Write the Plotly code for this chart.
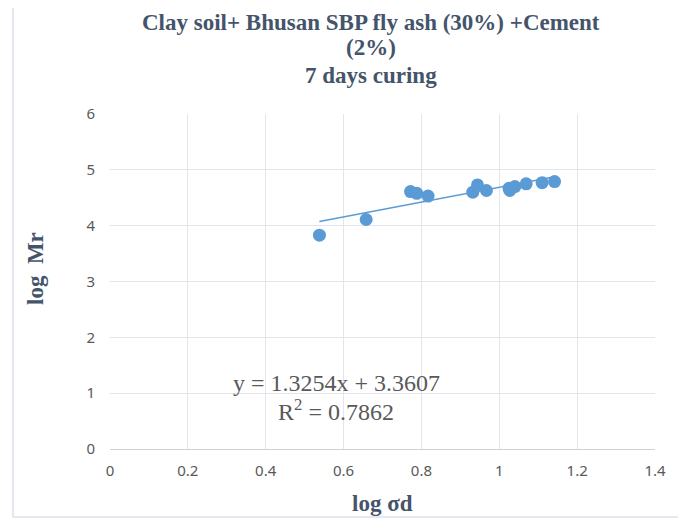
import plotly.graph_objects as go

log_sd = [0.538, 0.658, 0.772, 0.788, 0.817, 0.932, 0.944, 0.967, 1.025, 1.027, 1.040, 1.069, 1.110, 1.142]
log_mr = [3.83, 4.11, 4.61, 4.58, 4.53, 4.60, 4.73, 4.63, 4.67, 4.63, 4.70, 4.75, 4.77, 4.79]
slope = 1.3254
intercept = 3.3607
r2 = 0.7862

x_ticks = [0, 0.2, 0.4, 0.6, 0.8, 1, 1.2, 1.4]
x_tick_text = ["0", "0.2", "0.4", "0.6", "0.8", "1", "1.2", "1.4"]
y_ticks = [0, 1, 2, 3, 4, 5, 6]

title_lines = ["Clay soil+ Bhusan SBP fly ash (30%) +Cement", "(2%)", "7 days curing"]

OFF = 8  # page body margin
FW, FH = 686 - OFF, 519 - OFF
L, R, T, B = 110 - OFF, 655 - OFF, 114 - OFF, 449 - OFF
W, H = R - L, B - T


def px(x):
    return (x - OFF - L) / W


def py(y):
    return (B - (y - OFF)) / H


blue = "#5B9BD5"
fig = go.Figure()
xmin, xmax = min(log_sd), max(log_sd)
fig.add_trace(go.Scatter(x=[xmin, xmax], y=[slope * xmin + intercept, slope * xmax + intercept],
                         mode="lines", line=dict(color=blue, width=1.5), hoverinfo="skip", showlegend=False))
fig.add_trace(go.Scatter(x=log_sd, y=log_mr, mode="markers",
                         marker=dict(color=blue, size=13, line=dict(width=0)), showlegend=False))

fig.update_layout(
    width=FW, height=FH,
    margin=dict(l=L, r=FW - R, t=T, b=FH - B),
    paper_bgcolor="white", plot_bgcolor="white",
    showlegend=False,
    xaxis=dict(range=[0, 1.4], tickvals=x_ticks, ticktext=x_tick_text, showgrid=True,
               gridcolor="#E4E4EC", gridwidth=1, zeroline=False, showline=True,
               linecolor="#D0D0D8", linewidth=1, ticks="", automargin=False,
               tickfont=dict(family="Noto Sans", size=15, color="#595959")),
    yaxis=dict(range=[0, 6], tickvals=y_ticks, showgrid=True, gridcolor="#E4E4EC", gridwidth=1,
               zeroline=False, showline=False, ticks="", automargin=False,
               tickfont=dict(family="Noto Sans", size=15, color="#595959")),
    font=dict(family="Liberation Serif"),
)
fig.update_xaxes(ticklabelstandoff=8)
fig.update_yaxes(ticklabelstandoff=14)

for line, yc in zip(title_lines, [22, 48, 75]):
    fig.add_annotation(text="<b>" + line + "</b>", xref="paper", yref="paper",
                       x=px(371), y=py(yc), xanchor="center", yanchor="middle",
                       showarrow=False, font=dict(family="Liberation Serif", size=23, color="#44546A"))

fig.add_annotation(text="<b>log σd</b>", xref="paper", yref="paper", x=px(382), y=py(503),
                   xanchor="center", yanchor="middle", showarrow=False,
                   font=dict(family="Liberation Serif", size=23, color="#44546A"))
fig.add_annotation(text="<b>log  Mr</b>", xref="paper", yref="paper", x=px(35), y=py(269),
                   xanchor="center", yanchor="middle", showarrow=False, textangle=-90,
                   font=dict(family="Liberation Serif", size=23, color="#44546A"))

fig.add_annotation(text="y = 1.3254x + 3.3607", xref="paper", yref="paper",
                   x=px(336), y=py(383), xanchor="center", yanchor="middle", showarrow=False,
                   font=dict(family="Liberation Serif", size=24, color="#595959"))
fig.add_annotation(text="R<sup>2</sup> = 0.7862", xref="paper", yref="paper",
                   x=px(336), y=py(410), xanchor="center", yanchor="middle", showarrow=False,
                   font=dict(family="Liberation Serif", size=24, color="#595959"))

fig.add_shape(type="rect", xref="paper", yref="paper",
              x0=px(13), x1=px(681), y0=py(517), y1=py(3),
              line=dict(color="#E0E0EA", width=1.5), fillcolor="rgba(0,0,0,0)", layer="below")

fig.write_html("out.html")
